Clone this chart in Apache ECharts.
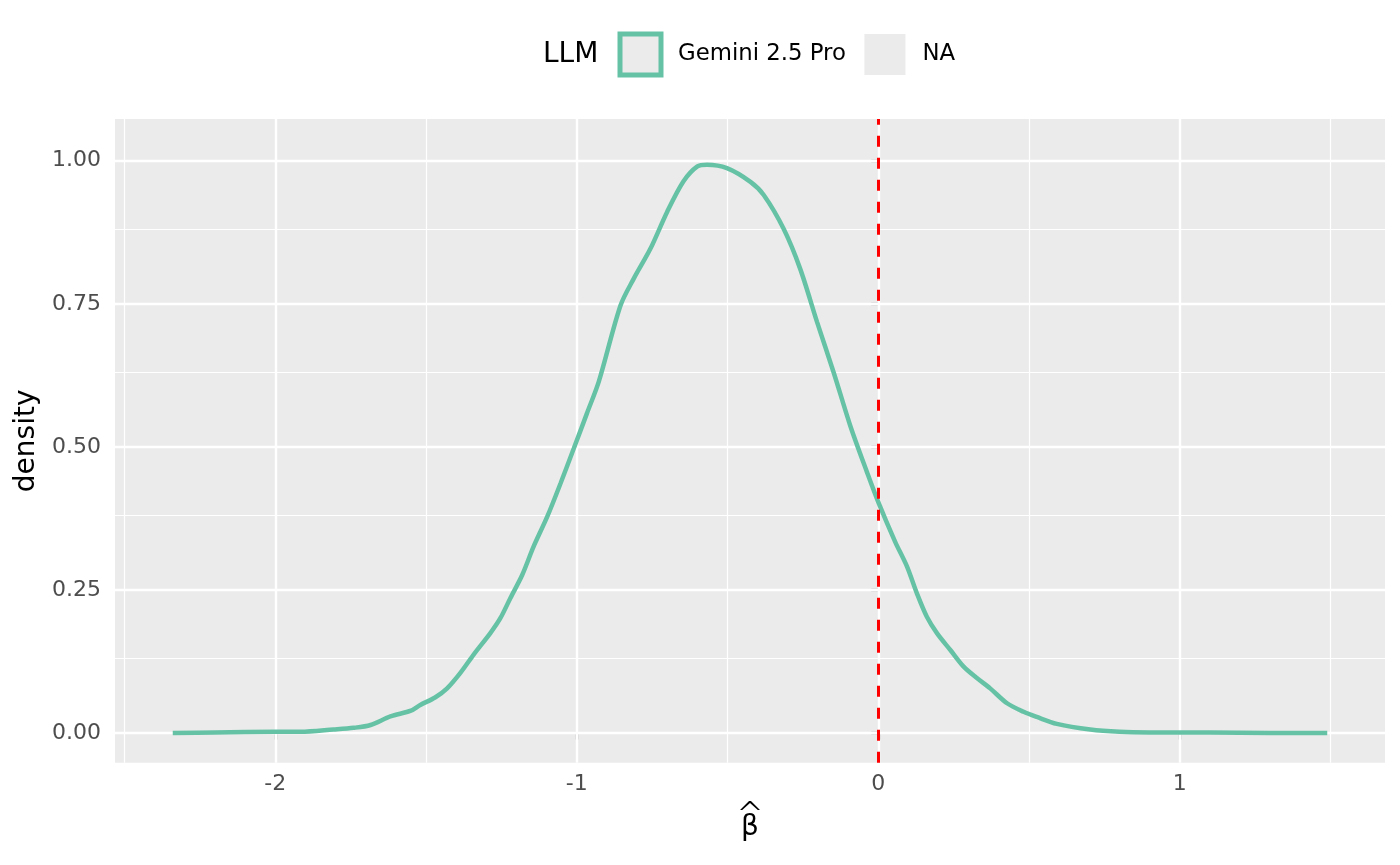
<!DOCTYPE html>
<html>
<head>
<meta charset="utf-8">
<script src="https://cdn.jsdelivr.net/npm/echarts@6/dist/echarts.min.js"></script>
<style>
html,body{margin:0;padding:0;background:#fff;}
#chart{width:1400px;height:865px;}
</style>
</head>
<body>
<div id="chart"></div>
<script>
// ---- data ----
const betaX = [-2.34,-2.20,-2.00,-1.916,-1.807,-1.74,-1.684,-1.618,-1.55,-1.519,-1.47,-1.43,-1.386,-1.342,-1.286,-1.253,-1.220,-1.181,-1.143,-1.098,-1.054,-1.010,-0.966,-0.927,-0.855,-0.811,-0.756,-0.700,-0.646,-0.600,-0.568,-0.502,-0.424,-0.380,-0.314,-0.259,-0.203,-0.148,-0.093,-0.037,0.001,0.056,0.095,0.128,0.161,0.195,0.239,0.283,0.327,0.371,0.427,0.482,0.526,0.592,0.703,0.800,0.900,1.100,1.300,1.489];
const densityY = [0.000,0.001,0.002,0.002,0.006,0.009,0.014,0.029,0.039,0.049,0.062,0.078,0.105,0.137,0.175,0.201,0.236,0.276,0.326,0.378,0.436,0.497,0.559,0.614,0.747,0.794,0.846,0.911,0.964,0.990,0.993,0.987,0.963,0.940,0.881,0.811,0.718,0.630,0.537,0.455,0.402,0.334,0.291,0.244,0.203,0.174,0.145,0.116,0.096,0.078,0.052,0.037,0.028,0.016,0.006,0.002,0.001,0.001,0.000,0.000];
const xTicks = [-2, -1, 0, 1];
const xMinor = [-2.5, -1.5, -0.5, 0.5, 1.5];
const yTicks = [0, 0.25, 0.5, 0.75, 1.0];
const yMinor = [0.125, 0.375, 0.625, 0.875];
const refLineX = 0;
const seriesName = 'Gemini 2.5 Pro';
const naName = 'NA';
const legendTitle = 'LLM';

const curve = betaX.map((x, i) => [x, densityY[i]]);

const gridLines = []
  .concat(xMinor.map(v => ({xAxis: v, lineStyle: {width: 1.2}})))
  .concat(yMinor.map(v => ({yAxis: v, lineStyle: {width: 1.2}})))
  .concat(xTicks.map(v => ({xAxis: v, lineStyle: {width: 2.4}})))
  .concat(yTicks.map(v => ({yAxis: v, lineStyle: {width: 2.4}})));

const chart = echarts.init(document.getElementById('chart'), null, {renderer: 'canvas'});
const font = 'DejaVu Sans';
chart.setOption({
  animation: false,
  backgroundColor: '#ffffff',
  textStyle: {fontFamily: font},
  grid: {left: 115, right: 15, top: 119, bottom: 102.3, show: true, backgroundColor: '#EBEBEB', borderWidth: 0},
  xAxis: {
    type: 'value', min: -2.5315, max: 1.6805,
    name: '{h|^}\n{b|β}', nameLocation: 'middle', nameGap: 45,
    nameTextStyle: {fontSize: 28, color: '#000', fontFamily: font,
      rich: {
        h: {fontSize: 34, lineHeight: 10, color: '#000', fontFamily: 'DejaVu Sans', fontWeight: 'lighter', align: 'center'},
        b: {fontSize: 28, lineHeight: 10, color: '#000', fontFamily: font, align: 'center'}
      }},
    axisLine: {show: false},
    splitLine: {show: false},
    axisTick: {show: true, customValues: xTicks, length: 6.5, lineStyle: {color: '#333333', width: 2.2}},
    axisLabel: {customValues: xTicks, color: '#4D4D4D', fontSize: 22, margin: 11, fontFamily: font,
      formatter: v => String(v)}
  },
  yAxis: {
    type: 'value', min: -0.0519, max: 1.0729,
    name: 'density', nameLocation: 'middle', nameGap: 72, nameRotate: 90,
    nameTextStyle: {fontSize: 28, color: '#000', fontFamily: font},
    axisLine: {show: false},
    splitLine: {show: false},
    axisTick: {show: true, customValues: yTicks, length: 7, lineStyle: {color: '#333333', width: 2.2}},
    axisLabel: {customValues: yTicks, color: '#4D4D4D', fontSize: 22, margin: 14, fontFamily: font,
      formatter: v => v.toFixed(2)}
  },
  legend: {
    left: 617.5, top: 31.5, padding: 0, orient: 'horizontal',
    itemWidth: 41, itemHeight: 41, itemGap: 18.5,
    selectedMode: false,
    textStyle: {fontSize: 22.8, color: '#000', fontFamily: font, padding: [0, 0, 0, 12]},
    data: [
      {name: seriesName, icon: 'rect', itemStyle: {color: '#EBEBEB', borderColor: '#66C2A5', borderWidth: 5}},
      {name: naName, icon: 'rect', itemStyle: {color: '#EBEBEB', borderWidth: 0}}
    ]
  },
  graphic: [
    {type: 'text', left: 543, top: 40.5, style: {text: legendTitle, fontSize: 28, fill: '#000', fontFamily: font}}
  ],
  series: [
    {
      name: '__grid', type: 'line', data: [], z: 1, silent: true,
      markLine: {silent: true, symbol: ['none', 'none'], label: {show: false}, z: 1,
        lineStyle: {color: '#FFFFFF', type: 'solid'}, emphasis: {disabled: true}, animation: false, data: gridLines}
    },
    {
      name: seriesName, type: 'line', data: curve, z: 3,
      smooth: 0.3, showSymbol: false, symbol: 'none',
      lineStyle: {color: '#66C2A5', width: 4.5, cap: 'butt'},
      itemStyle: {color: '#66C2A5'}
    },
    {
      name: naName, type: 'line', data: [], z: 2, showSymbol: false,
      itemStyle: {color: '#EBEBEB'}, lineStyle: {color: '#EBEBEB'}
    },
    {
      name: '__ref', type: 'line', data: [], z: 10, silent: true,
      markLine: {silent: true, symbol: ['none', 'none'], label: {show: false}, z: 10,
        lineStyle: {color: '#FF0000', type: [11, 11], width: 3}, emphasis: {disabled: true}, animation: false,
        data: [{xAxis: refLineX}]}
    }
  ]
});
</script>
</body>
</html>
